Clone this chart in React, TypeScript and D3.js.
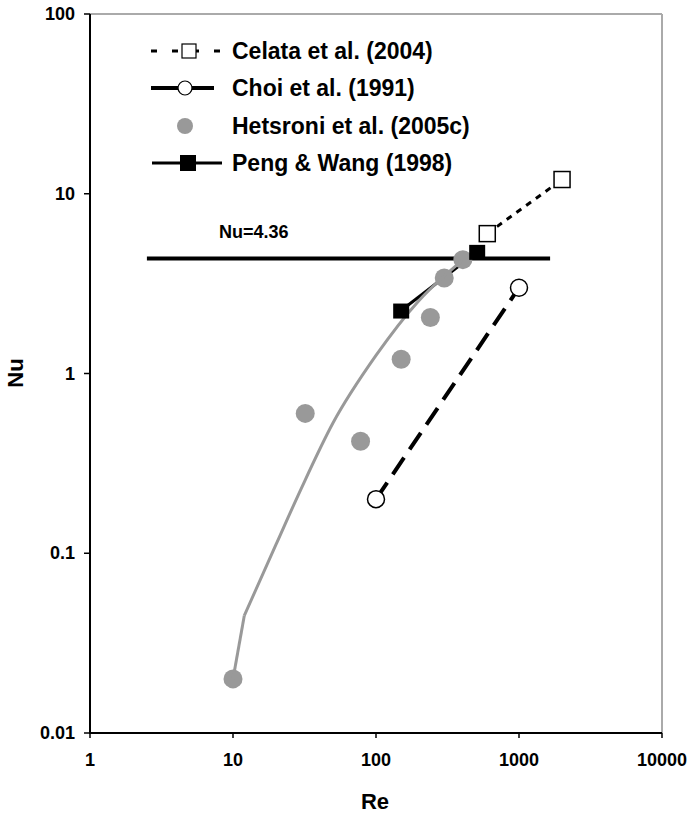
import React from "react";
import * as d3 from "d3";

const celataRe = [600, 2000];
const celataNu = [6.0, 12.0];
const choiRe = [100, 1000];
const choiNu = [0.2, 3.0];
const hetsroniRe = [10, 32, 78, 150, 240, 300, 405];
const hetsroniNu = [0.02, 0.6, 0.42, 1.2, 2.05, 3.4, 4.3];
const corrRe = [10, 12, 20, 30, 50, 100, 200, 400];
const corrNu = [0.02, 0.045, 0.112, 0.229, 0.53, 1.26, 2.55, 4.25];
const pengRe = [150, 510];
const pengNu = [2.24, 4.75];
const nuConstRe = [2.5, 1650];
const nuConstVal = 4.36;
const xTicks = [1, 10, 100, 1000, 10000];
const yTicks = [0.01, 0.1, 1, 10, 100];
const legendNames = [
  "Celata et al. (2004)",
  "Choi et al. (1991)",
  "Hetsroni et al. (2005c)",
  "Peng & Wang (1998)",
];

const W = 688;
const H = 813;
const L = 90, R = 662, T = 14, B = 733;
const FONT = "'Liberation Sans', Arial, sans-serif";
const GRAY = "#999999";

export default function App() {
  const x = d3.scaleLog().domain([1, 10000]).range([L, R]);
  const y = d3.scaleLog().domain([0.01, 100]).range([B, T]);
  const line = d3
    .line<[number, number]>()
    .x((d) => x(d[0]))
    .y((d) => y(d[1]));
  const curve = d3
    .line<[number, number]>()
    .x((d) => x(d[0]))
    .y((d) => y(d[1]))
    .curve(d3.curveMonotoneX);
  const zip = (a: number[], b: number[]) => a.map((v, i) => [v, b[i]] as [number, number]);
  const fmt = (v: number) => (v < 1 ? String(v) : String(Math.round(v)));

  const legY = [51, 88, 126, 163];
  const lx0 = 151, lx1 = 220, lcx = 189;
  const corr = zip(corrRe, corrNu);

  return (
    <svg width={W} height={H} style={{ position: "absolute", left: 0, top: 0 }} fontFamily={FONT}>
      <rect x={0} y={0} width={W} height={H} fill="#fff" />
      {/* frame */}
      <line x1={L} x2={R} y1={T} y2={T} stroke="#aaa" strokeWidth={2} />
      <line x1={R} x2={R} y1={T} y2={B} stroke="#aaa" strokeWidth={2} />
      <line x1={L} x2={L} y1={T} y2={B + 1} stroke="#000" strokeWidth={2} />
      <line x1={L - 1} x2={R} y1={B} y2={B} stroke="#000" strokeWidth={2} />
      {xTicks.map((t) => (
        <g key={"x" + t}>
          <line x1={x(t)} x2={x(t)} y1={B} y2={B + 5} stroke="#000" strokeWidth={1.5} />
          <text x={x(t)} y={766} textAnchor="middle" fontSize={18} fontWeight="bold">
            {fmt(t)}
          </text>
        </g>
      ))}
      {yTicks.map((t) => (
        <g key={"y" + t}>
          <line x1={L - 6} x2={L} y1={y(t)} y2={y(t)} stroke="#000" strokeWidth={1.5} />
          <text x={75} y={y(t) + 6} textAnchor="end" fontSize={18} fontWeight="bold">
            {fmt(t)}
          </text>
        </g>
      ))}
      <text x={375} y={809} textAnchor="middle" fontSize={22} fontWeight="bold">Re</text>
      <text
        transform={`translate(23,${373}) rotate(-90)`}
        textAnchor="middle"
        fontSize={22}
        fontWeight="bold"
      >
        Nu
      </text>

      {/* Nu = 4.36 */}
      <path
        d={line(nuConstRe.map((r) => [r, nuConstVal] as [number, number]))!}
        stroke="#000"
        strokeWidth={4}
        fill="none"
      />
      <text x={219} y={238} fontSize={18} fontWeight="bold">Nu=4.36</text>

      {/* Peng & Wang */}
      <path d={line(zip(pengRe, pengNu))!} stroke="#000" strokeWidth={3} fill="none" />

      {/* Hetsroni */}
      {zip(hetsroniRe, hetsroniNu).map((d, i) => (
        <circle key={"h" + i} cx={x(d[0])} cy={y(d[1])} r={9.5} fill={GRAY} />
      ))}
      <path d={line(corr.slice(0, 2))!} stroke={GRAY} strokeWidth={3} fill="none" />
      <path d={curve(corr.slice(1))!} stroke={GRAY} strokeWidth={3} fill="none" />

      {zip(pengRe, pengNu).map((d, i) => (
        <rect key={"p" + i} x={x(d[0]) - 8} y={y(d[1]) - 7} width={16} height={15} fill="#000" />
      ))}

      {/* Celata */}
      <path
        d={line(zip(celataRe, celataNu))!}
        stroke="#000"
        strokeWidth={3}
        strokeDasharray="6,6"
        fill="none"
      />
      {zip(celataRe, celataNu).map((d, i) => (
        <rect
          key={"c" + i}
          x={x(d[0]) - 8}
          y={y(d[1]) - 8}
          width={16}
          height={16}
          fill="#fff"
          stroke="#000"
          strokeWidth={1.5}
        />
      ))}

      {/* Choi */}
      <path
        d={line(zip(choiRe, choiNu))!}
        stroke="#000"
        strokeWidth={4}
        strokeDasharray="20,10"
        fill="none"
      />
      {zip(choiRe, choiNu).map((d, i) => (
        <circle key={"o" + i} cx={x(d[0])} cy={y(d[1])} r={8.5} fill="#fff" stroke="#000" strokeWidth={1.5} />
      ))}

      {/* Legend */}
      <g>
        <line x1={lx0} x2={lx1} y1={legY[0]} y2={legY[0]} stroke="#000" strokeWidth={3} strokeDasharray="6,15" />
        <rect x={182} y={legY[0] - 7} width={14} height={14} fill="#fff" stroke="#000" strokeWidth={1.2} />
        <line x1={lx0} x2={214} y1={legY[1]} y2={legY[1]} stroke="#000" strokeWidth={4} />
        <circle cx={lcx - 4} cy={legY[1]} r={7} fill="#fff" stroke="#000" strokeWidth={1.2} />
        <circle cx={lcx - 4} cy={legY[2]} r={8} fill={GRAY} />
        <line x1={152} x2={222} y1={legY[3]} y2={legY[3]} stroke="#000" strokeWidth={3} />
        <rect x={180} y={legY[3] - 8} width={16} height={16} fill="#000" />
        {legendNames.map((n, i) => (
          <text key={n} x={232} y={legY[i] + 8} fontSize={23} fontWeight="bold">
            {n}
          </text>
        ))}
      </g>
    </svg>
  );
}
